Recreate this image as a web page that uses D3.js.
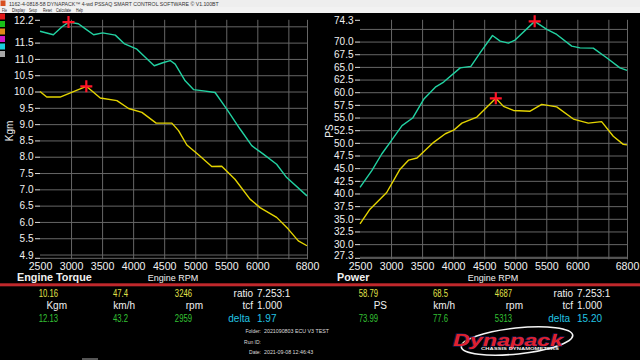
<!DOCTYPE html>
<html><head><meta charset="utf-8">
<script src="https://cdn.jsdelivr.net/npm/d3@7"></script>
<style>
html,body{margin:0;padding:0;background:#000;}
svg{display:block;font-family:"Liberation Sans",Arial,sans-serif;}
</style></head>
<body>
<svg id="c" width="640" height="360"></svg>
<script>
// ---------- data ----------
const torqueARpm = [2500,2608,2823,3246,3471,3739,3927,4141,4371,4623,4731,4865,5052,5266,5427,5640,5882,6043,6311,6498,6660,6800];
const torqueAVal = [10.00,9.83,9.83,10.16,9.80,9.72,9.48,9.36,9.03,9.03,8.80,8.36,8.06,7.70,7.71,7.31,6.70,6.44,6.14,5.78,5.42,5.27];
const torqueBRpm = [2500,2715,2850,2959,3118,3226,3364,3509,3713,3863,4061,4195,4340,4490,4597,4677,4838,4972,5133,5320,5508,5722,5910,6097,6311,6473,6800];
const torqueBVal = [11.85,11.74,11.98,12.13,12.08,11.93,11.74,11.80,11.73,11.46,11.30,11.05,10.79,10.89,10.95,10.84,10.33,10.06,10.02,9.97,9.46,8.85,8.34,8.08,7.77,7.36,6.80];
const powerARpm = [2500,2661,2930,3145,3284,3418,3686,3874,4008,4141,4383,4687,4811,4972,5240,5427,5668,5936,6177,6391,6579,6740,6800];
const powerAVal = [34.0,36.9,40.2,44.8,46.6,47.0,50.1,51.8,52.5,53.9,55.1,58.79,57.2,56.4,56.25,57.6,57.1,54.7,53.9,54.2,51.3,49.7,49.6];
const powerBRpm = [2500,2690,2850,2985,3177,3348,3525,3713,3847,4114,4286,4436,4634,4757,4890,4997,5313,5508,5668,5910,6043,6257,6472,6687,6800];
const powerBVal = [41.2,44.5,47.8,50.1,53.4,54.9,58.6,61.0,62.0,64.8,65.1,67.8,71.2,70.1,69.7,70.3,73.99,72.4,71.4,69.1,68.75,68.7,66.8,64.8,64.3];

const rpmLabels = [2500,3000,3500,4000,4500,5000,5500,6000,6800];
const rpmGrid = [3000,3500,4000,4500,5000,5500,6000,6500,6800];
const torqueLabels = [12.2,11.5,11.0,10.5,10.0,9.5,9.0,8.5,8.0,7.5,7.0,6.5,6.0,5.5,4.9];
const torqueGrid = [12.0,11.5,11.0,10.5,10.0,9.5,9.0,8.5,8.0,7.5,7.0,6.5,6.0,5.5,5.0,4.9];
const powerLabels = [74.3,70.0,67.5,65.0,62.5,60.0,57.5,55.0,52.5,50.0,47.5,45.0,42.5,40.0,37.5,35.0,32.5,30.0,27.3];
const powerGrid = [72.5,70.0,67.5,65.0,62.5,60.0,57.5,55.0,52.5,50.0,47.5,45.0,42.5,40.0,37.5,35.0,32.5,30.0,27.5,27.3];

const torquePeakA = [3246,10.16], torquePeakB = [2959,12.13];
const powerPeakA = [4687,58.79], powerPeakB = [5313,73.99];

const menuItems = ["File","Display","Setup","Reset","Calculate","Help"];
const legendColors = ["#e01818","#18c018","#e08a18","#d018c8","#18d0e0","#a8a8a8"];

const torqueReadout = {rowA:["10.16","47.4","3246"], units:["Kgm","km/h","rpm"], rowB:["12.13","43.2","2959"], ratio:"7.253:1", tcf:"1.000", delta:"1.97"};
const powerReadout  = {rowA:["58.79","68.5","4687"], units:["PS","km/h","rpm"], rowB:["73.99","77.6","5313"], ratio:"7.253:1", tcf:"1.000", delta:"15.20"};

// ---------- drawing ----------
const svg = d3.select("#c");
const GREEN = "#22d2a2", YELLOW = "#e4d400", GRID = "#666";

svg.append("rect").attr("width",640).attr("height",360).attr("fill","#000");
// title + menu bars
svg.append("rect").attr("x",0).attr("y",0).attr("width",640).attr("height",7).attr("fill","#eeeeee");
svg.append("rect").attr("x",0).attr("y",7).attr("width",640).attr("height",6).attr("fill","#f2f2f2");
svg.append("rect").attr("x",0.5).attr("y",0.5).attr("width",5).attr("height",5.5).attr("fill","#d85020");
svg.append("text").attr("x",9).attr("y",5.6).attr("font-size",5.2).attr("fill","#333")
  .text("1162-4-0818-58 DYNAPACK\u2122 4-wd PSSAQ SMART CONTROL SOFTWARE \u00a9 V1.100BT");
const menuX = [2,12,29,43,56,76], menuW = [5,13,8,9,15,7];
menuItems.forEach((m,i)=>svg.append("text").attr("x",menuX[i]).attr("y",11.8).attr("font-size",4.6).attr("fill","#222")
  .attr("textLength",menuW[i]).attr("lengthAdjust","spacingAndGlyphs").text(m));

legendColors.forEach((c,i)=>svg.append("rect").attr("x",0).attr("y",13.5+i*7.5).attr("width",5).attr("height",6).attr("fill",c));

const TOP = 19.8, BOT = 257.8;

function chart(ox, yDomain, labels, grid, series, peaks, yTitle, title, titleX){
  const x = d3.scaleLinear().domain([2500,6800]).range([ox+40, ox+307]);
  const y = d3.scaleLinear().domain(yDomain).range([BOT, TOP]);
  const g = svg.append("g");
  // horizontal grid
  g.append("g").attr("transform",`translate(${ox+40},0)`)
    .call(d3.axisLeft(y).tickValues(grid).tickSize(-267).tickFormat(""))
    .call(a=>{a.select(".domain").remove(); a.selectAll("line").attr("stroke",GRID);});
  // vertical grid
  g.append("g").attr("transform",`translate(0,${BOT+1.5})`)
    .call(d3.axisBottom(x).tickValues(rpmGrid).tickSize(-(BOT+1.5-TOP)).tickFormat(""))
    .call(a=>{a.select(".domain").remove(); a.selectAll("line").attr("stroke",GRID);});
  // y labels
  g.append("g").attr("transform",`translate(${ox+40},0)`)
    .call(d3.axisLeft(y).tickValues(labels).tickSize(5).tickPadding(1.5).tickFormat(d3.format(".1f")))
    .call(a=>{a.select(".domain").remove(); a.selectAll("line").attr("stroke","#ddd");
      a.selectAll("text").attr("fill","#f0f0f0").attr("font-size",10).attr("font-family","Liberation Sans, Arial");
      a.selectAll(".tick").filter(d=>d===yDomain[0]).select("text").attr("dy","0.1em");});
  // x labels
  g.append("g").attr("transform",`translate(0,${BOT})`)
    .call(d3.axisBottom(x).tickValues(rpmLabels).tickSize(0).tickPadding(4.5).tickFormat(d3.format("d")))
    .call(a=>{a.select(".domain").remove();
      a.selectAll("text").attr("fill","#f0f0f0").attr("font-size",10.6).attr("font-family","Liberation Sans, Arial");});
  // curves
  const line = d3.line().x(d=>x(d[0])).y(d=>y(d[1]));
  series.forEach(s=>{
    g.append("path").datum(d3.zip(s.rpm,s.val)).attr("d",line)
      .attr("fill","none").attr("stroke",s.color).attr("stroke-width",1.4).attr("stroke-linejoin","round");
  });
  // peaks
  peaks.forEach(p=>{
    const px=x(p[0]), py=y(p[1]);
    g.append("path").attr("d",`M${px-6},${py}H${px+6}M${px},${py-6}V${py+6}`)
      .attr("stroke","#ff1428").attr("stroke-width",2.2);
  });
  // axis title
  g.append("text").attr("transform",`translate(${ox+13},${131}) rotate(-90)`).attr("text-anchor","middle")
    .attr("fill","#f0f0f0").attr("font-size",10).text(yTitle);
  g.append("text").attr("x",ox+titleX).attr("y",281).attr("font-size",10.8).attr("font-weight","bold")
    .attr("fill","#f0f0f0").text(title);
  g.append("text").attr("x",ox+173).attr("y",281).attr("text-anchor","middle").attr("font-size",9)
    .attr("fill","#f0f0f0").text("Engine RPM");
}

chart(0,[4.9,12.2],torqueLabels,torqueGrid,
  [{rpm:torqueARpm,val:torqueAVal,color:YELLOW},{rpm:torqueBRpm,val:torqueBVal,color:GREEN}],
  [torquePeakA,torquePeakB],"Kgm","Engine Torque",17);
chart(320,[27.3,74.3],powerLabels,powerGrid,
  [{rpm:powerARpm,val:powerAVal,color:YELLOW},{rpm:powerBRpm,val:powerBVal,color:GREEN}],
  [powerPeakA,powerPeakB],"PS","Power",17);

// red separator
svg.append("rect").attr("x",0).attr("y",283.3).attr("width",640).attr("height",3).attr("fill","#c0282c");

// readouts
function narrow(sel, f){ sel.each(function(){ const L=this.getComputedTextLength(); d3.select(this).attr("textLength",L*f).attr("lengthAdjust","spacingAndGlyphs");}); }
function readout(ox, r){
  const g = svg.append("g").attr("font-size",10);
  const vx=[58,128,192], ux=[67,135,203];
  r.rowA.forEach((v,i)=>g.append("text").attr("x",ox+vx[i]).attr("y",297).attr("text-anchor","end").attr("fill","#e2e24a").text(v).call(narrow,0.77));
  r.units.forEach((v,i)=>g.append("text").attr("x",ox+ux[i]).attr("y",308.5).attr("text-anchor","end").attr("fill","#f0f0f0").text(v));
  r.rowB.forEach((v,i)=>g.append("text").attr("x",ox+vx[i]).attr("y",321.5).attr("text-anchor","end").attr("fill","#34c234").text(v).call(narrow,0.77));
  g.append("text").attr("x",ox+253).attr("y",297).attr("text-anchor","end").attr("fill","#f0f0f0").text("ratio");
  g.append("text").attr("x",ox+257).attr("y",297).attr("fill","#f0f0f0").text(r.ratio);
  g.append("text").attr("x",ox+253).attr("y",308.5).attr("text-anchor","end").attr("fill","#f0f0f0").text("tcf");
  g.append("text").attr("x",ox+257).attr("y",308.5).attr("fill","#f0f0f0").text(r.tcf);
  g.append("text").attr("x",ox+250).attr("y",321.5).attr("text-anchor","end").attr("fill","#22c4e4").text("delta");
  g.append("text").attr("x",ox+257).attr("y",321.5).attr("fill","#22c4e4").text(r.delta);
}
readout(0,torqueReadout);
readout(320,powerReadout);

// run info
const info = [["Folder:","2021090803 ECU V3 TEST",333],["Run ID:","",343.5],["Date:","2021-09-08 12:46:43",354]];
info.forEach(d=>{
  svg.append("text").attr("x",261).attr("y",d[2]).attr("text-anchor","end").attr("font-size",5).attr("fill","#ddd").text(d[0]);
  svg.append("text").attr("x",264).attr("y",d[2]).attr("font-size",5.3).attr("fill","#ddd").text(d[1]);
});
svg.append("rect").attr("x",82).attr("y",358).attr("width",16).attr("height",2).attr("fill","#555");

// logo
const logo = svg.append("g");
logo.append("ellipse").attr("cx",517).attr("cy",341).attr("rx",56).attr("ry",13)
  .attr("transform","rotate(-6 517 341)").attr("fill","none").attr("stroke","#f4f4f4").attr("stroke-width",1.6);
logo.append("text").attr("x",453).attr("y",345.5).attr("font-size",16).attr("font-weight","bold").attr("font-style","italic")
  .attr("fill","#e0202c").attr("stroke","#20206a").attr("stroke-width",0.8).attr("paint-order","stroke")
  .attr("textLength",110).attr("lengthAdjust","spacingAndGlyphs").text("Dynapack");
logo.append("text").attr("x",481).attr("y",350).attr("font-size",3.6).attr("font-weight","bold").attr("fill","#f0f0f0")
  .attr("textLength",78).attr("lengthAdjust","spacingAndGlyphs").text("CHASSIS DYNAMOMETERS");
</script>
</body></html>
